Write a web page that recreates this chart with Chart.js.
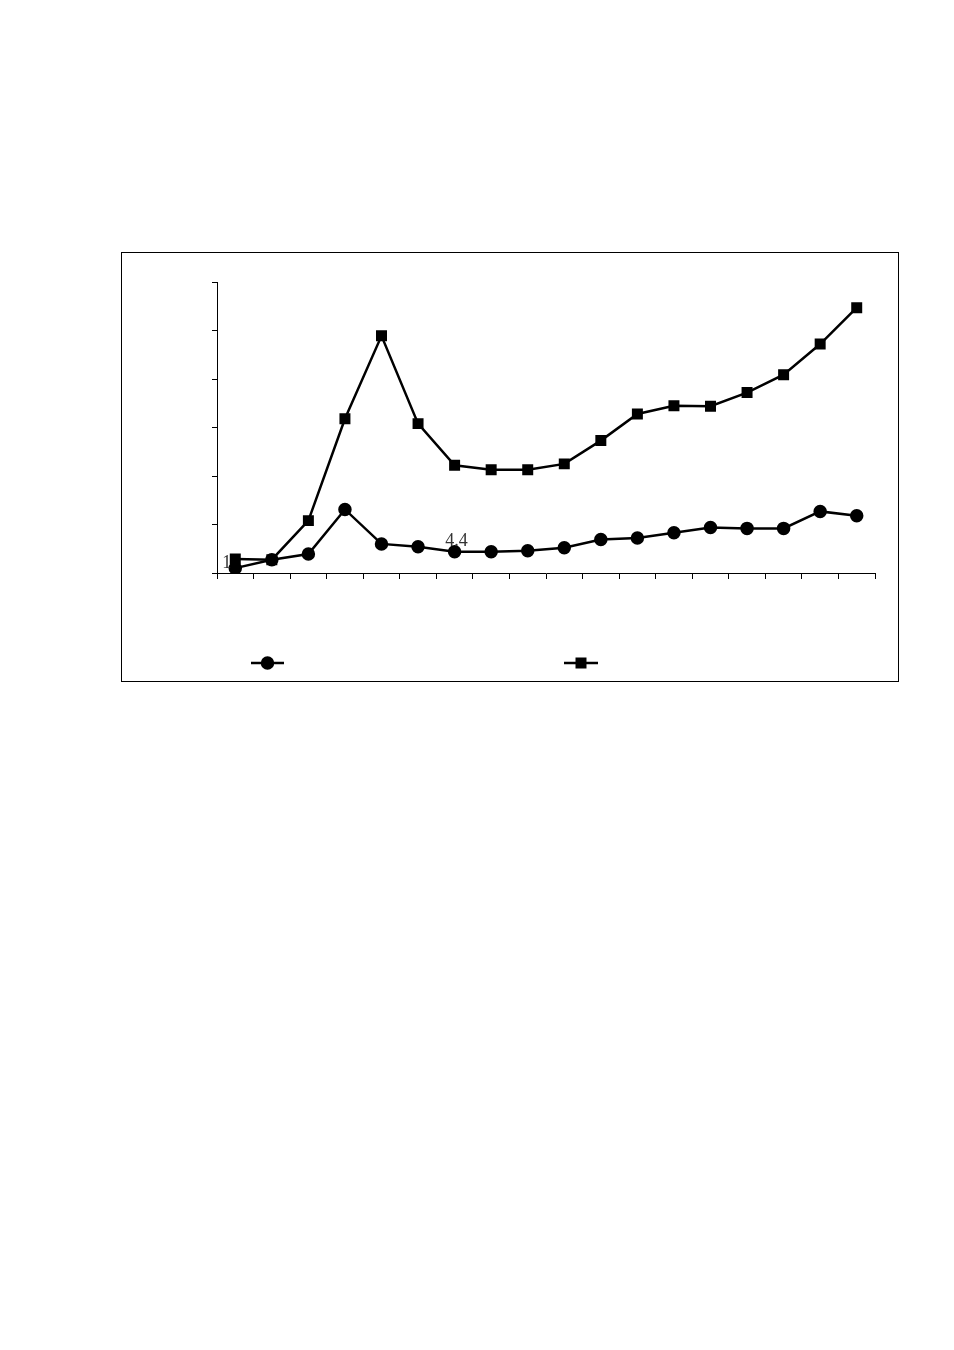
<!DOCTYPE html>
<html>
<head>
<meta charset="utf-8">
<script src="https://cdn.jsdelivr.net/npm/chart.js@4/dist/chart.umd.min.js"></script>
<style>
  html, body { margin: 0; padding: 0; background: #fff; }
  body { width: 954px; height: 1350px; position: relative; }
  #box { position: absolute; left: 121px; top: 252px; width: 776px; height: 428px; border: 1px solid #000; }
  #c { position: absolute; left: 0; top: 0; }
</style>
</head>
<body>
<div id="box"><canvas id="c" width="776" height="428"></canvas></div>
<script>
const categories = ['1','2','3','4','5','6','7','8','9','10','11','12','13','14','15','16','17','18'];
const seriesCircle = [1.0, 2.75, 3.9, 13.1, 6.0, 5.4, 4.4, 4.4, 4.6, 5.2, 6.9, 7.2, 8.3, 9.4, 9.2, 9.2, 12.7, 11.8];
const seriesSquare = [2.9, 2.75, 10.8, 31.8, 48.9, 30.8, 22.2, 21.3, 21.3, 22.5, 27.3, 32.8, 34.5, 34.4, 37.2, 40.9, 47.2, 54.7];
const yTicks = [0, 10, 20, 30, 40, 50, 60];
const circleLabels = [{ index: 0, text: '1' }, { index: 6, text: '4.4' }];

const labelPlugin = {
  id: 'labelsAndLegend',
  afterDatasetsDraw(chart) {
    const ctx = chart.ctx;
    const meta = chart.getDatasetMeta(0);
    ctx.save();
    ctx.font = '18px "Liberation Serif", serif';
    ctx.fillStyle = '#333';
    ctx.textBaseline = 'middle';
    circleLabels.forEach(l => {
      const p = meta.data[l.index];
      if (l.index === 0) {
        ctx.textAlign = 'right';
        ctx.fillText(l.text, p.x - 4, p.y - 5);
      } else {
        ctx.textAlign = 'center';
        ctx.fillText(l.text, p.x + 2, p.y - 10);
      }
    });
    ctx.restore();
  },
  afterDraw(chart) {
    const ctx = chart.ctx;
    ctx.save();
    const y = 410;
    const items = [{ x0: 129, x1: 162, ds: chart.data.datasets[0] }, { x0: 442, x1: 476, ds: chart.data.datasets[1] }];
    items.forEach(it => {
      ctx.strokeStyle = '#000';
      ctx.lineWidth = 2.5;
      ctx.beginPath();
      ctx.moveTo(it.x0, y);
      ctx.lineTo(it.x1, y);
      ctx.stroke();
      ctx.fillStyle = '#000';
      Chart.helpers.drawPoint(ctx, { pointStyle: it.ds.pointStyle, radius: it.ds.pointRadius, rotation: 0, borderWidth: 1 }, (it.x0 + it.x1) / 2, y);
      ctx.fill();
    });
    ctx.restore();
  }
};

new Chart(document.getElementById('c'), {
  type: 'line',
  data: {
    labels: categories,
    datasets: [
      { label: '', data: seriesCircle, borderColor: '#000', backgroundColor: '#000', borderWidth: 2.5,
        pointStyle: 'circle', pointRadius: 5.5, pointBackgroundColor: '#000', pointBorderColor: '#000', tension: 0 },
      { label: '', data: seriesSquare, borderColor: '#000', backgroundColor: '#000', borderWidth: 2.5,
        pointStyle: 'rect', pointRadius: 6, pointBackgroundColor: '#000', pointBorderColor: '#000', tension: 0 }
    ]
  },
  options: {
    responsive: false,
    animation: false,
    layout: { padding: { left: 0, top: 29, right: 23, bottom: 0 } },
    plugins: { legend: { display: false }, tooltip: { enabled: false } },
    scales: {
      x: {
        offset: true,
        grid: { offset: true, drawOnChartArea: false, drawTicks: true, tickLength: 6, color: '#000', lineWidth: 1 },
        border: { display: true, color: '#000', width: 1 },
        ticks: { display: false },
        afterFit(s) { s.height = 108; }
      },
      y: {
        min: 0, max: 60,
        afterBuildTicks(s) { s.ticks = yTicks.map(v => ({ value: v })); },
        grid: { drawOnChartArea: false, drawTicks: true, tickLength: 5, color: '#000', lineWidth: 1 },
        border: { display: true, color: '#000', width: 1 },
        ticks: { display: false },
        afterFit(s) { s.width = 95; }
      }
    }
  },
  plugins: [labelPlugin]
});
</script>
</body>
</html>
